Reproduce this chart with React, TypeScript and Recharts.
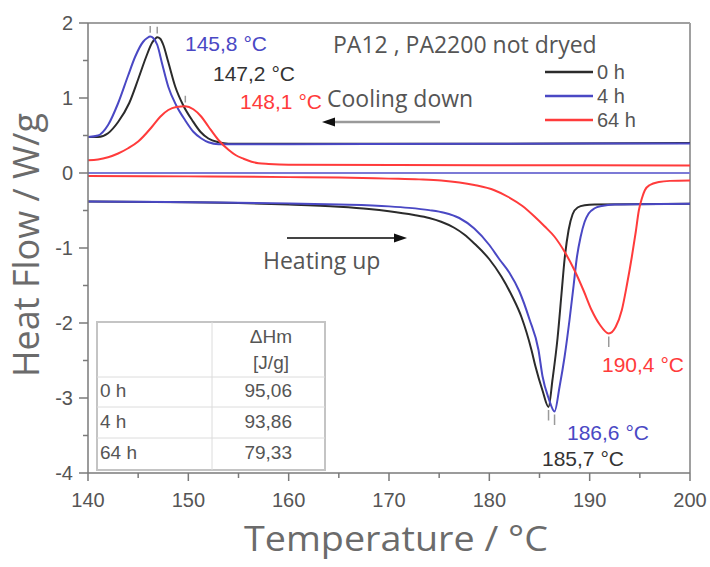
import React from 'react';
import { LineChart, Line, XAxis, YAxis, ReferenceLine, Legend } from 'recharts';

// ---- Data (temperature °C, heat flow W/g) ----
const cool0T = [140, 141, 142, 143, 144.1, 145, 145.8, 146.4, 146.7, 146.9, 147.2, 147.5, 148, 148.7, 149.5, 150.4, 151.2, 152, 153, 154, 160, 180, 200];
const cool0V = [0.48, 0.48, 0.53, 0.68, 0.93, 1.25, 1.55, 1.74, 1.79, 1.81, 1.79, 1.71, 1.48, 1.15, 0.9, 0.7, 0.55, 0.46, 0.41, 0.39, 0.39, 0.39, 0.4];
const cool4T = [140, 141, 142, 143, 144, 144.7, 145.5, 145.9, 146.2, 146.5, 146.9, 147.4, 148, 148.8, 149.7, 150.5, 151.3, 152, 153, 160, 180, 200];
const cool4V = [0.48, 0.5, 0.64, 0.93, 1.3, 1.55, 1.75, 1.8, 1.82, 1.8, 1.71, 1.45, 1.15, 0.9, 0.7, 0.55, 0.46, 0.41, 0.385, 0.385, 0.39, 0.395];
const cool64T = [140, 141, 142, 143, 144, 145, 146.4, 147.2, 148, 148.8, 149.7, 150.5, 151.3, 152, 153, 154, 154.7, 155.5, 156.3, 157, 158, 160, 180, 200];
const cool64V = [0.17, 0.18, 0.21, 0.26, 0.33, 0.42, 0.62, 0.75, 0.84, 0.88, 0.89, 0.85, 0.75, 0.62, 0.44, 0.31, 0.24, 0.19, 0.15, 0.13, 0.12, 0.11, 0.105, 0.1];

const heat0T = [140, 150, 155, 160, 165, 168, 170, 172.5, 174, 175.2, 176.5, 177.5, 178.5, 180, 181.2, 182.3, 183.2, 184.2, 184.6, 185.3, 185.9, 186.3, 186.8, 187.2, 187.5, 187.9, 188.3, 188.8, 189.5, 190.5, 200];
const heat0V = [-0.38, -0.39, -0.4, -0.42, -0.45, -0.48, -0.51, -0.56, -0.6, -0.65, -0.73, -0.82, -0.94, -1.15, -1.38, -1.65, -1.92, -2.36, -2.58, -2.9, -3.12, -2.75, -2.2, -1.6, -1.15, -0.76, -0.55, -0.46, -0.43, -0.42, -0.41];
const heat4T = [140, 150, 160, 165, 170, 172, 174, 175.5, 177, 178.5, 180, 181, 182, 183, 184, 184.9, 185.3, 185.9, 186.5, 187, 187.5, 188, 188.4, 188.7, 189.1, 189.5, 189.9, 190.5, 191.2, 192.5, 200];
const heat4V = [-0.38, -0.39, -0.405, -0.42, -0.445, -0.465, -0.495, -0.53, -0.6, -0.74, -0.96, -1.15, -1.33, -1.58, -1.95, -2.36, -2.71, -3.0, -3.18, -2.85, -2.45, -1.95, -1.5, -1.15, -0.85, -0.65, -0.54, -0.47, -0.44, -0.42, -0.41];
const heat64T = [140, 150, 160, 165, 170, 173, 175.2, 178.5, 180.5, 181.9, 183.3, 184.5, 185.5, 186.5, 187.5, 188.5, 189.4, 190.2, 191, 191.9, 192.6, 193.2, 193.7, 194.2, 194.6, 194.9, 195.2, 195.5, 196, 196.9, 198, 200];
const heat64V = [-0.04, -0.045, -0.055, -0.06, -0.075, -0.085, -0.1, -0.16, -0.23, -0.32, -0.44, -0.58, -0.71, -0.85, -1.05, -1.3, -1.57, -1.83, -2.02, -2.14, -2.05, -1.83, -1.5, -1.12, -0.78, -0.5, -0.34, -0.23, -0.16, -0.12, -0.105, -0.1];

const seriesNames = ['0 h', '4 h', '64 h'];
const seriesColors = ['#2b2b2b', '#4a48c4', '#ff3b3b'];

const xTicks = [140, 145, 150, 155, 160, 165, 170, 175, 180, 185, 190, 195, 200];
const yTicks = [-4, -3.5, -3, -2.5, -2, -1.5, -1, -0.5, 0, 0.5, 1, 1.5, 2];

const coolPeaks = [
  { t: 146.2, v: 1.82, label: '145,8 °C' },
  { t: 146.9, v: 1.81, label: '147,2 °C' },
  { t: 149.7, v: 0.89, label: '148,1 °C' },
];
const heatPeaks = [
  { t: 185.9, v: -3.12, label: '185,7 °C' },
  { t: 186.5, v: -3.18, label: '186,6 °C' },
  { t: 191.9, v: -2.14, label: '190,4 °C' },
];

const tableRows = ['0 h', '4 h', '64 h'];
const tableValues = ['95,06', '93,86', '79,33'];

const zip = (t: number[], v: number[]) => t.map((x, i) => ({ t: x, v: v[i] }));
const coolData = [zip(cool0T, cool0V), zip(cool4T, cool4V), zip(cool64T, cool64V)];
const heatData = [zip(heat0T, heat0V), zip(heat4T, heat4V), zip(heat64T, heat64V)];

const tickColor = '#555';
const axisColor = '#7a7a7a';
const tickFont = '"Liberation Sans", Arial, sans-serif';
const titleFont = '"Open Sans", "Noto Sans", sans-serif';

const XTick = (props: any) => {
  const { x, y, payload } = props;
  const major = payload.value % 10 === 0;
  return (
    <g>
      <line x1={x} y1={y} x2={x} y2={y + (major ? 8 : 5)} stroke={axisColor} strokeWidth={1.5} />
      {major && (
        <text x={x} y={y + 34} textAnchor="middle" fontSize={20} fill={tickColor} style={{ fontFamily: tickFont }}>
          {payload.value}
        </text>
      )}
    </g>
  );
};

const YTick = (props: any) => {
  const { x, y, payload } = props;
  const major = Number.isInteger(payload.value);
  return (
    <g>
      <line x1={x} y1={y} x2={x - (major ? 9 : 5)} y2={y} stroke={axisColor} strokeWidth={1.5} />
      {major && (
        <text x={x - 15} y={y + 7} textAnchor="end" fontSize={20} fill={tickColor} style={{ fontFamily: tickFont }}>
          {payload.value}
        </text>
      )}
    </g>
  );
};

const LegendContent = (props: any) => {
  const items = (props.payload || []).filter((p: any) => !String(p.value).includes('heating'));
  return (
    <div style={{ display: 'flex', flexDirection: 'column' }}>
      {items.map((p: any) => (
        <div key={p.value} style={{ display: 'flex', alignItems: 'center', height: 24 }}>
          <svg width={50} height={10}>
            <line x1={0} y1={5} x2={48} y2={5} stroke={p.color} strokeWidth={2.5} />
          </svg>
          <span style={{ fontFamily: tickFont, fontSize: 20, color: tickColor, marginLeft: 2 }}>{p.value}</span>
        </div>
      ))}
    </div>
  );
};

export default function App() {
  return (
    <div style={{ position: 'absolute', left: 0, top: 0, width: 710, height: 567, background: '#fff' }}>
      <LineChart width={710} height={567} margin={{ top: 23, right: 20, bottom: 64, left: 0 }}>
        <XAxis
          type="number"
          dataKey="t"
          domain={[140, 200]}
          ticks={xTicks}
          interval={0}
          tick={<XTick />}
          tickLine={false}
          tickSize={0}
          tickMargin={0}
          height={30}
          axisLine={{ stroke: axisColor, strokeWidth: 1.5 }}
          allowDataOverflow
        />
        <YAxis
          type="number"
          domain={[-4, 2]}
          ticks={yTicks}
          interval={0}
          tick={<YTick />}
          tickLine={false}
          tickSize={0}
          tickMargin={0}
          width={88}
          axisLine={{ stroke: axisColor, strokeWidth: 1.5 }}
          allowDataOverflow
        />
        <ReferenceLine y={2} stroke="#a0a0a0" strokeWidth={2} />
        <ReferenceLine x={200} stroke="#a0a0a0" strokeWidth={2} />
        <ReferenceLine y={0} stroke="#7c7ad6" strokeWidth={2} />
        {coolPeaks.map((p, i) => (
          <ReferenceLine
            key={'cp' + i}
            segment={[{ x: p.t, y: p.v + 0.05 }, { x: p.t, y: p.v + 0.14 }]}
            stroke="#9a9a9a"
            strokeWidth={1.5}
          />
        ))}
        {heatPeaks.map((p, i) => (
          <ReferenceLine
            key={'hp' + i}
            segment={[{ x: p.t, y: p.v - 0.04 }, { x: p.t, y: p.v - 0.18 }]}
            stroke="#9a9a9a"
            strokeWidth={1.5}
          />
        ))}
        {heatData.map((d, i) => (
          <Line
            key={'h' + i}
            data={d}
            dataKey="v"
            name={seriesNames[i] + ' heating'}
            type="monotone"
            stroke={seriesColors[i]}
            strokeWidth={2}
            dot={false}
            legendType="none"
            isAnimationActive={false}
          />
        ))}
        {coolData.map((d, i) => (
          <Line
            key={'c' + i}
            data={d}
            dataKey="v"
            name={seriesNames[i]}
            type="monotone"
            stroke={seriesColors[i]}
            strokeWidth={2}
            dot={false}
            isAnimationActive={false}
          />
        ))}
        <Legend
          layout="vertical"
          align="center"
          verticalAlign="middle"
          content={<LegendContent />}
          wrapperStyle={{ position: 'absolute', left: 545, top: 60, width: 120, height: 75 }}
        />
      </LineChart>
      <svg
        width={710}
        height={567}
        style={{ position: 'absolute', left: 0, top: 0, pointerEvents: 'none' }}
      >
        <text
          x={39}
          y={245}
          transform="rotate(-90, 39, 245)"
          textAnchor="middle"
          fontSize={36}
          fill="#6b6b6b"
          style={{ fontFamily: titleFont }}
        >
          Heat Flow / W/g
        </text>
        <text
          x={396}
          y={551}
          textAnchor="middle"
          fontSize={35}
          textLength={304}
          lengthAdjust="spacingAndGlyphs"
          fill="#6b6b6b"
          style={{ fontFamily: titleFont }}
        >
          Temperature / °C
        </text>
        <text x={333} y={53} fontSize={23} fill="#555" style={{ fontFamily: titleFont }}>
          PA12 , PA2200 not dryed
        </text>
        <g style={{ fontFamily: tickFont }} fontSize={21}>
          <text x={185} y={51} fill={seriesColors[1]}>{coolPeaks[0].label}</text>
          <text x={213} y={81} fill="#333">{coolPeaks[1].label}</text>
          <text x={240} y={109} fill={seriesColors[2]}>{coolPeaks[2].label}</text>
          <text x={602} y={372} fill={seriesColors[2]}>{heatPeaks[2].label}</text>
          <text x={567} y={440} fill={seriesColors[1]}>{heatPeaks[1].label}</text>
          <text x={542} y={466} fill="#333">{heatPeaks[0].label}</text>
        </g>
        <text x={327} y={107} fontSize={23} fill="#555" style={{ fontFamily: titleFont }}>Cooling down</text>
        <line x1={330} y1={122} x2={440} y2={122} stroke="#9a9a9a" strokeWidth={2.5} />
        <polygon points="322,122 335,117.5 335,126.5" fill="#111" />
        <line x1={287} y1={238} x2={398} y2={238} stroke="#444" strokeWidth={1.8} />
        <polygon points="407,238 394,233.5 394,242.5" fill="#111" />
        <text x={263} y={269} fontSize={23} fill="#555" style={{ fontFamily: titleFont }}>Heating up</text>
        <g style={{ fontFamily: tickFont }} fontSize={19} fill="#555">
          <rect x={97} y={322} width={228} height={148} fill="#fff" stroke="#c4c4c4" strokeWidth={2} />
          <line x1={212} y1={322} x2={212} y2={470} stroke="#dcdcdc" strokeWidth={1} />
          <line x1={97} y1={377} x2={325} y2={377} stroke="#dcdcdc" strokeWidth={1} />
          <line x1={97} y1={407} x2={325} y2={407} stroke="#dcdcdc" strokeWidth={1} />
          <line x1={97} y1={438} x2={325} y2={438} stroke="#dcdcdc" strokeWidth={1} />
          <text x={292} y={343} textAnchor="end">ΔHm</text>
          <text x={289} y={369} textAnchor="end">[J/g]</text>
          {tableRows.map((r, i) => (
            <g key={r}>
              <text x={100} y={397 + i * 31}>{r}</text>
              <text x={292} y={397 + i * 31} textAnchor="end">{tableValues[i]}</text>
            </g>
          ))}
        </g>
      </svg>
    </div>
  );
}
